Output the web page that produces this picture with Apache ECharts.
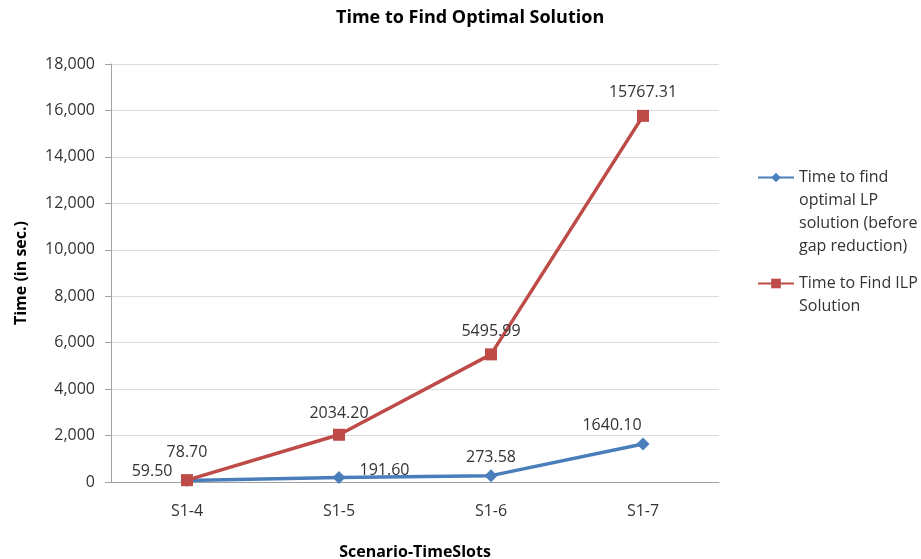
<!DOCTYPE html>
<html>
<head>
<meta charset="utf-8">
<script src="https://cdn.jsdelivr.net/npm/echarts@6/dist/echarts.min.js"></script>
<style>
  html, body { margin: 0; padding: 0; background: #fff; }
  #chart { width: 921px; height: 559px; }
</style>
</head>
<body>
<div id="chart"></div>
<script>
// Scenario / time-slot categories on the x axis
const categories = ['S1-4', 'S1-5', 'S1-6', 'S1-7'];

// Solver times in seconds
const lpTimes = [59.50, 191.60, 273.58, 1640.10];
const ilpTimes = [78.70, 2034.20, 5495.99, 15767.31];

const lpName = 'Time to find optimal LP solution (before gap reduction)';
const ilpName = 'Time to Find ILP Solution';

// Wrapped legend text, one entry per line
const lpLegendLines = ['Time to find', 'optimal LP', 'solution (before', 'gap reduction)'];
const ilpLegendLines = ['Time to Find ILP', 'Solution'];

const FONT = '"Open Sans", "Noto Sans", sans-serif';
const TEXT = '#333333';
const LEGEND_LINE = 23;

// Where each point's value label sits relative to its marker
const lpLabelPlacement = [
  { position: 'left', distance: 8, offset: [0, -9] },
  { position: 'right', distance: 14, offset: [0, -7] },
  { position: 'top', distance: 4, offset: [0, 0] },
  { position: 'top', distance: 4, offset: [-31, 0] }
];
const ilpLabelPlacement = [
  { position: 'top', distance: 14, offset: [0, 0] },
  { position: 'top', distance: 7, offset: [0, 0] },
  { position: 'top', distance: 9, offset: [0, 0] },
  { position: 'top', distance: 9, offset: [0, 0] }
];

function withLabels(values, placement) {
  return values.map((v, i) => ({ value: v, label: placement[i] }));
}

// Legend text is centred on its icon; a blank leading line keeps the
// icon level with the first text line instead.
function legendBlock(lines) {
  return '{gap| }\n' + lines.join('\n');
}
function legendGapStyle(lines) {
  return { gap: { lineHeight: (lines.length - 1) * LEGEND_LINE, fontSize: 1 } };
}

const chart = echarts.init(document.getElementById('chart'), null, { renderer: 'canvas' });

const labelStyle = {
  show: true,
  color: TEXT,
  fontFamily: FONT,
  fontSize: 16,
  formatter: p => Number(p.value).toFixed(2)
};

function legendFor(name, lines, top) {
  return {
    orient: 'vertical',
    left: 757,
    top: top,
    padding: 0,
    itemWidth: 36,
    itemHeight: 12,
    itemGap: 0,
    data: [name],
    formatter: () => legendBlock(lines),
    textStyle: {
      fontFamily: FONT, fontSize: 16, lineHeight: LEGEND_LINE, color: TEXT,
      rich: legendGapStyle(lines)
    }
  };
}

chart.setOption({
  animation: false,
  backgroundColor: '#ffffff',
  title: {
    text: 'Time to Find Optimal Solution',
    left: 331,
    top: 4,
    textStyle: { fontFamily: FONT, fontSize: 18, fontWeight: 'bold', color: '#000' }
  },
  grid: {
    left: 111, right: 202, top: 64, bottom: 77,
    containLabel: false,
    outerBoundsMode: 'none'
  },
  legend: [
    legendFor(lpName, lpLegendLines, 97),
    legendFor(ilpName, ilpLegendLines, 249)
  ],
  xAxis: {
    type: 'category',
    data: categories,
    boundaryGap: true,
    name: 'Scenario-TimeSlots',
    nameLocation: 'middle',
    nameGap: 62,
    nameTextStyle: { fontFamily: FONT, fontSize: 16, fontWeight: 'bold', color: '#000' },
    axisLine: { lineStyle: { color: '#a0a0a0', width: 1 } },
    axisTick: { show: false },
    axisLabel: { fontFamily: FONT, fontSize: 16, color: TEXT, margin: 21 }
  },
  yAxis: {
    type: 'value',
    min: 0,
    max: 18000,
    interval: 2000,
    name: 'Time (in sec.)',
    nameLocation: 'middle',
    nameGap: 82,
    nameTextStyle: { fontFamily: FONT, fontSize: 16, fontWeight: 'bold', color: '#000' },
    axisLine: { show: true, lineStyle: { color: '#a0a0a0', width: 1 } },
    axisTick: { show: true, length: 6, lineStyle: { color: '#a0a0a0' } },
    axisLabel: {
      fontFamily: FONT, fontSize: 16, color: TEXT, margin: 16,
      formatter: v => v.toLocaleString('en-US')
    },
    splitLine: { lineStyle: { color: '#dcdcdc', width: 1 } }
  },
  series: [
    {
      name: lpName,
      type: 'line',
      data: withLabels(lpTimes, lpLabelPlacement),
      symbol: 'diamond',
      symbolSize: 13,
      lineStyle: { color: '#4A7EBB', width: 3.5 },
      itemStyle: { color: '#4A7EBB' },
      label: labelStyle,
      z: 3
    },
    {
      name: ilpName,
      type: 'line',
      data: withLabels(ilpTimes, ilpLabelPlacement),
      symbol: 'rect',
      symbolSize: 12,
      lineStyle: { color: '#BE4B48', width: 3.5 },
      itemStyle: { color: '#BE4B48' },
      label: labelStyle,
      z: 4
    }
  ]
});
</script>
</body>
</html>
